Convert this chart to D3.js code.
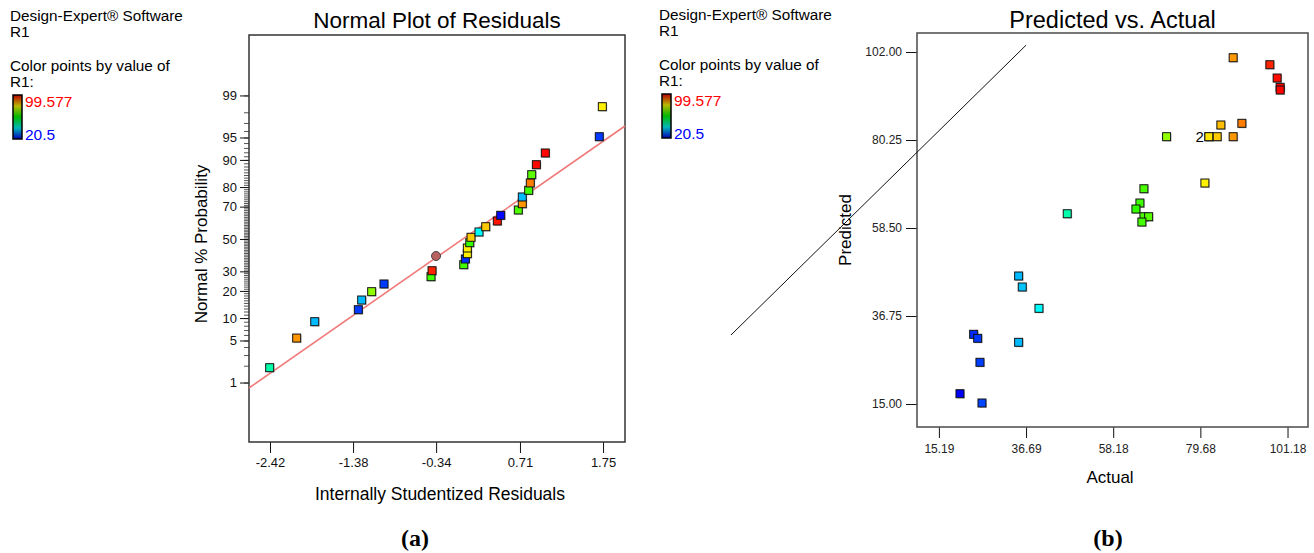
<!DOCTYPE html>
<html>
<head>
<meta charset="utf-8">
<script src="https://cdnjs.cloudflare.com/ajax/libs/d3/7.8.5/d3.min.js"></script>
<style>
body { margin: 0; background: #fff; }
text { font-family: "Liberation Sans", Arial, sans-serif; }
</style>
</head>
<body>
<script>
// colour range of R1
var r1Range = [20.5, 99.577];

// (a) normal plot: studentized residual, normal % probability, R1 value (colour)
var residuals = [-2.424, -2.086, -1.860, -1.314, -1.272, -1.147, -0.993, -0.404, -0.391, 0.006,
                 0.026, 0.051, 0.051, 0.081, 0.097, 0.197, 0.281, 0.426, 0.469, 0.689,
                 0.739, 0.739, 0.819, 0.839, 0.857, 0.915, 1.027, 1.703, 1.741];
var probPct = [1.85, 5.42, 9.01, 12.59, 16.13, 19.66, 23.30, 27.06, 30.36, 33.85,
               37.30, 40.59, 44.20, 47.61, 51.10, 54.52, 57.89, 61.47, 64.95, 68.08,
               71.63, 75.21, 78.49, 81.81, 85.13, 88.57, 91.83, 95.13, 98.40];
var residR1 = [47, 88, 35, 25, 35, 71, 25, 65, 97, 65,
               24, 81, 81, 64, 84, 40, 84, 98, 21, 66,
               88, 35, 65, 90, 67, 99, 99, 25, 81];
// highlighted run (circle)
var markResid = [-0.341];
var markPct = [39.15];
// fitted normal line
var fitResid = [-2.683, 2.025];
var fitPct = [0.787, 96.65];

var probMajor = [1, 5, 10, 20, 30, 50, 70, 80, 90, 95, 99];
var residTicks = [-2.42, -1.38, -0.34, 0.71, 1.75];

// (b) predicted vs actual
var actual = [87.77, 96.82, 98.62, 99.36, 99.36, 84.74, 89.92, 71.35, 81.78, 81.78,
              83.83, 87.77, 80.80, 65.76, 64.77, 63.79, 65.76, 66.92, 65.26, 46.85,
              34.86, 35.75, 39.87, 23.77, 24.76, 34.86, 25.32, 20.39, 25.82];
var predicted = [100.59, 98.86, 95.57, 93.27, 92.61, 83.96, 84.38, 81.07, 81.07, 81.07,
                 81.07, 81.07, 69.62, 68.21, 64.68, 63.20, 61.29, 61.29, 59.98, 62.03,
                 46.64, 43.92, 38.65, 32.23, 31.24, 30.25, 25.31, 17.55, 15.25];
var predTicks = [15.00, 36.75, 58.50, 80.25, 102.00];
var actTicks = [15.19, 36.69, 58.18, 79.68, 101.18];
var diagActual = [-36.1, 36.7];
var diagPred = [32.05, 103.7];

// inverse normal cdf (Acklam)
function probit(p) {
  var a = [-3.969683028665376e+01, 2.209460984245205e+02, -2.759285104469687e+02, 1.383577518672690e+02, -3.066479806614716e+01, 2.506628277459239e+00];
  var b = [-5.447609879822406e+01, 1.615858368580409e+02, -1.556989798598866e+02, 6.680131188771972e+01, -1.328068155288572e+01];
  var c = [-7.784894002430293e-03, -3.223964580411365e-01, -2.400758277161838e+00, -2.549732539343734e+00, 4.374664141464968e+00, 2.938163982698783e+00];
  var d = [7.784695709041462e-03, 3.224671290700398e-01, 2.445134137142996e+00, 3.754408661907416e+00];
  var pl = 0.02425, q, r;
  if (p < pl) {
    q = Math.sqrt(-2 * Math.log(p));
    return (((((c[0]*q+c[1])*q+c[2])*q+c[3])*q+c[4])*q+c[5]) / ((((d[0]*q+d[1])*q+d[2])*q+d[3])*q+1);
  }
  if (p > 1 - pl) {
    q = Math.sqrt(-2 * Math.log(1 - p));
    return -(((((c[0]*q+c[1])*q+c[2])*q+c[3])*q+c[4])*q+c[5]) / ((((d[0]*q+d[1])*q+d[2])*q+d[3])*q+1);
  }
  q = p - 0.5; r = q * q;
  return (((((a[0]*r+a[1])*r+a[2])*r+a[3])*r+a[4])*r+a[5])*q / (((((b[0]*r+b[1])*r+b[2])*r+b[3])*r+b[4])*r+1);
}

var hue = d3.scaleLinear().domain(r1Range).range([240, 0]).clamp(true);
function r1Color(v) { return d3.hsl(hue(v), 1, 0.5).formatHex(); }

var svg = d3.select("body").append("svg")
  .attr("width", 1314).attr("height", 553);

var defs = svg.append("defs");
var grad = defs.append("linearGradient").attr("id", "cbar")
  .attr("x1", 0).attr("y1", 1).attr("x2", 0).attr("y2", 0);
[0, 0.25, 0.5, 0.75, 1].forEach(function(t) {
  grad.append("stop").attr("offset", t)
    .attr("stop-color", d3.hsl(240 * (1 - t), 1, 0.36).formatHex());
});

function header(x, y) {
  var g = svg.append("g").attr("transform", "translate(" + x + "," + y + ")");
  g.append("text").attr("x", 0).attr("y", 0).style("font-size", "15.3px").text("Design-Expert® Software");
  g.append("text").attr("x", 0).attr("y", 16).style("font-size", "15.3px").text("R1");
  g.append("text").attr("x", 0).attr("y", 50).style("font-size", "15.3px").text("Color points by value of");
  g.append("text").attr("x", 0).attr("y", 66).style("font-size", "15.3px").text("R1:");
  g.append("rect").attr("x", 3).attr("y", 74).attr("width", 9).attr("height", 44)
    .attr("fill", "url(#cbar)").attr("stroke", "#000").attr("stroke-width", 1.5);
  g.append("text").attr("x", 15).attr("y", 86).style("font-size", "15.5px").attr("fill", "#ff0000").text(r1Range[1]);
  g.append("text").attr("x", 15).attr("y", 119).style("font-size", "15.5px").attr("fill", "#0000ff").text(r1Range[0]);
}
header(10, 21);
header(659, 20);

function squares(g, xs, ys, vals) {
  var pts = xs.map(function(x, i) { return {x: x, y: ys[i], v: vals[i]}; });
  g.selectAll(".sh").data(pts).enter().append("rect")
    .attr("x", function(d) { return d.x - 3; }).attr("y", function(d) { return d.y - 3; })
    .attr("width", 8).attr("height", 8).attr("fill", "#aaa").attr("opacity", 0.6);
  g.selectAll(".pt").data(pts).enter().append("rect")
    .attr("x", function(d) { return d.x - 4; }).attr("y", function(d) { return d.y - 4; })
    .attr("width", 8).attr("height", 8)
    .attr("fill", function(d) { return r1Color(d.v); })
    .attr("stroke", "#111").attr("stroke-width", 1);
}

// ---------- (a) Normal plot of residuals ----------
var ax = {l: 249, r: 625, t: 35, b: 442};
var xA = d3.scaleLinear().domain([-2.683, 2.025]).range([ax.l, ax.r]);
var zA = d3.scaleLinear().domain([-3.29, 3.306]).range([ax.b, ax.t]);
function yA(pct) { return zA(probit(pct / 100)); }

var ga = svg.append("g");
ga.append("text").attr("x", (ax.l + ax.r) / 2).attr("y", 28).attr("text-anchor", "middle")
  .style("font-size", "22.5px").text("Normal Plot of Residuals");

// minor probability ticks
var minorAxis = d3.axisLeft(zA).tickValues(d3.range(1, 100).map(function(p) { return probit(p / 100); }))
  .tickSize(5).tickFormat("");
ga.append("g").attr("transform", "translate(" + ax.l + ",0)").call(minorAxis)
  .call(function(g) { g.select(".domain").remove(); g.selectAll("line").attr("stroke", "#555"); });
var majorAxis = d3.axisLeft(zA).tickValues(probMajor.map(function(p) { return probit(p / 100); }))
  .tickSize(9).tickPadding(3).tickFormat(function(d, i) { return probMajor[i]; });
ga.append("g").attr("transform", "translate(" + ax.l + ",0)").call(majorAxis)
  .call(function(g) {
    g.select(".domain").remove();
    g.selectAll("line").attr("stroke", "#111");
    g.selectAll("text").style("font-size", "13px").attr("fill", "#111").style("font-family", "Liberation Sans, Arial, sans-serif");
  });
var xAxisA = d3.axisBottom(xA).tickValues(residTicks).tickSize(11).tickPadding(5)
  .tickFormat(function(d) { return d.toFixed(2); });
ga.append("g").attr("transform", "translate(0," + ax.b + ")").call(xAxisA)
  .call(function(g) {
    g.select(".domain").remove();
    g.selectAll("line").attr("stroke", "#111");
    g.selectAll("text").style("font-size", "13px").attr("fill", "#111").style("font-family", "Liberation Sans, Arial, sans-serif");
  });
ga.append("rect").attr("x", ax.l).attr("y", ax.t).attr("width", ax.r - ax.l).attr("height", ax.b - ax.t)
  .attr("fill", "none").attr("stroke", "#333").attr("stroke-width", 1.5);

ga.append("text").attr("x", (ax.l + ax.r) / 2 + 3).attr("y", 500).attr("text-anchor", "middle")
  .style("font-size", "17.5px").text("Internally Studentized Residuals");
ga.append("text").attr("transform", "translate(207,244) rotate(-90)").attr("text-anchor", "middle")
  .style("font-size", "17px").text("Normal % Probability");

ga.append("line")
  .attr("x1", xA(fitResid[0])).attr("y1", yA(fitPct[0]))
  .attr("x2", xA(fitResid[1])).attr("y2", yA(fitPct[1]))
  .attr("stroke", "#f07a7a").attr("stroke-width", 1.6);

squares(ga, residuals.map(xA), probPct.map(yA), residR1);
ga.selectAll(".mk").data(markResid).enter().append("circle")
  .attr("cx", function(d) { return xA(d); })
  .attr("cy", function(d, i) { return yA(markPct[i]); })
  .attr("r", 4.5).attr("fill", "#b86262").attr("stroke", "#444").attr("stroke-width", 1);

// ---------- (b) Predicted vs Actual ----------
var bx = {l: 917, r: 1308, t: 33, b: 427};
var xB = d3.scaleLinear().domain([9.79, 106.23]).range([bx.l, bx.r]);
var yB = d3.scaleLinear().domain([9.32, 106.7]).range([bx.b, bx.t]);

var gb = svg.append("g");
gb.append("text").attr("x", (bx.l + bx.r) / 2).attr("y", 28).attr("text-anchor", "middle")
  .style("font-size", "23.5px").text("Predicted vs. Actual");

gb.append("g").attr("transform", "translate(" + bx.l + ",0)")
  .call(d3.axisLeft(yB).tickValues(predTicks).tickSize(11).tickPadding(4)
    .tickFormat(function(d) { return d.toFixed(2); }))
  .call(function(g) {
    g.select(".domain").remove();
    g.selectAll("line").attr("stroke", "#111");
    g.selectAll("text").style("font-size", "12px").attr("fill", "#222").style("font-family", "Liberation Sans, Arial, sans-serif");
  });
gb.append("g").attr("transform", "translate(0," + bx.b + ")")
  .call(d3.axisBottom(xB).tickValues(actTicks).tickSize(11).tickPadding(6)
    .tickFormat(function(d) { return d.toFixed(2); }))
  .call(function(g) {
    g.select(".domain").remove();
    g.selectAll("line").attr("stroke", "#111");
    g.selectAll("text").style("font-size", "12px").attr("fill", "#222").style("font-family", "Liberation Sans, Arial, sans-serif");
  });
gb.append("rect").attr("x", bx.l).attr("y", bx.t).attr("width", bx.r - bx.l).attr("height", bx.b - bx.t)
  .attr("fill", "none").attr("stroke", "#555").attr("stroke-width", 1.6);

gb.append("text").attr("x", 1110).attr("y", 483).attr("text-anchor", "middle")
  .style("font-size", "17px").text("Actual");
gb.append("text").attr("transform", "translate(851,230) rotate(-90)").attr("text-anchor", "middle")
  .style("font-size", "17px").text("Predicted");

gb.append("line")
  .attr("x1", xB(diagActual[0])).attr("y1", yB(diagPred[0]))
  .attr("x2", xB(diagActual[1])).attr("y2", yB(diagPred[1]))
  .attr("stroke", "#111").attr("stroke-width", 1);

squares(gb, actual.map(xB), predicted.map(yB), actual);

// count labels for repeated runs
var counts = d3.rollups(actual.map(function(a, i) { return [a, predicted[i]]; }),
  function(v) { return v.length; }, function(d) { return d[0] + "," + d[1]; });
counts.filter(function(c) { return c[1] > 1; }).forEach(function(c) {
  var p = c[0].split(",").map(Number);
  gb.append("text").attr("x", xB(p[0]) - 5).attr("y", yB(p[1]) + 5).attr("text-anchor", "end")
    .style("font-size", "15px").text(c[1]);
});

// panel captions
svg.append("text").attr("x", 415).attr("y", 546).attr("text-anchor", "middle")
  .style("font-family", "Liberation Serif, Times New Roman, serif").style("font-weight", "bold")
  .style("font-size", "24px").text("(a)");
svg.append("text").attr("x", 1108).attr("y", 546).attr("text-anchor", "middle")
  .style("font-family", "Liberation Serif, Times New Roman, serif").style("font-weight", "bold")
  .style("font-size", "24px").text("(b)");
</script>
</body>
</html>
